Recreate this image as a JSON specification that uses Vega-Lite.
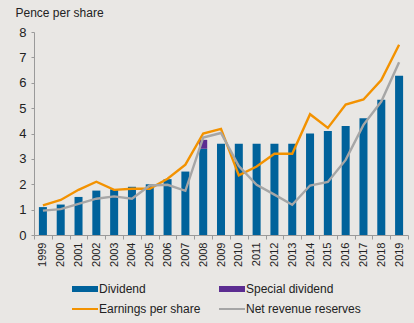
{
  "$schema": "https://vega.github.io/schema/vega-lite/v6.json",
  "width": 374,
  "height": 203,
  "autosize": {"type": "none"},
  "padding": {"left": 34, "top": 32, "right": 6, "bottom": 88},
  "background": "#e9e7e4",
  "config": {
    "view": {"stroke": null},
    "font": "Liberation Sans",
    "axis": {"labelFont": "Liberation Sans", "titleFont": "Liberation Sans"},
    "legend": {"labelFont": "Liberation Sans"}
  },
  "data": {
    "values": [
      {"year": "1999", "series": "Dividend", "value": 1.1},
      {"year": "2000", "series": "Dividend", "value": 1.2},
      {"year": "2001", "series": "Dividend", "value": 1.5},
      {"year": "2002", "series": "Dividend", "value": 1.75},
      {"year": "2003", "series": "Dividend", "value": 1.8},
      {"year": "2004", "series": "Dividend", "value": 1.9},
      {"year": "2005", "series": "Dividend", "value": 2.0},
      {"year": "2006", "series": "Dividend", "value": 2.2},
      {"year": "2007", "series": "Dividend", "value": 2.5},
      {"year": "2008", "series": "Dividend", "value": 3.4},
      {"year": "2009", "series": "Dividend", "value": 3.6},
      {"year": "2010", "series": "Dividend", "value": 3.6},
      {"year": "2011", "series": "Dividend", "value": 3.6},
      {"year": "2012", "series": "Dividend", "value": 3.6},
      {"year": "2013", "series": "Dividend", "value": 3.6},
      {"year": "2014", "series": "Dividend", "value": 4.0},
      {"year": "2015", "series": "Dividend", "value": 4.1},
      {"year": "2016", "series": "Dividend", "value": 4.3},
      {"year": "2017", "series": "Dividend", "value": 4.6},
      {"year": "2018", "series": "Dividend", "value": 5.33},
      {"year": "2019", "series": "Dividend", "value": 6.28},
      {"year": "2008", "series": "Special dividend", "value": 0.35},
      {"year": "1999", "series": "Earnings per share", "value": 1.17},
      {"year": "2000", "series": "Earnings per share", "value": 1.38},
      {"year": "2001", "series": "Earnings per share", "value": 1.78},
      {"year": "2002", "series": "Earnings per share", "value": 2.1},
      {"year": "2003", "series": "Earnings per share", "value": 1.78},
      {"year": "2004", "series": "Earnings per share", "value": 1.82},
      {"year": "2005", "series": "Earnings per share", "value": 1.82},
      {"year": "2006", "series": "Earnings per share", "value": 2.22},
      {"year": "2007", "series": "Earnings per share", "value": 2.77},
      {"year": "2008", "series": "Earnings per share", "value": 4.0},
      {"year": "2009", "series": "Earnings per share", "value": 4.18},
      {"year": "2010", "series": "Earnings per share", "value": 2.35},
      {"year": "2011", "series": "Earnings per share", "value": 2.7},
      {"year": "2012", "series": "Earnings per share", "value": 3.2},
      {"year": "2013", "series": "Earnings per share", "value": 3.2},
      {"year": "2014", "series": "Earnings per share", "value": 4.76},
      {"year": "2015", "series": "Earnings per share", "value": 4.22},
      {"year": "2016", "series": "Earnings per share", "value": 5.14},
      {"year": "2017", "series": "Earnings per share", "value": 5.34},
      {"year": "2018", "series": "Earnings per share", "value": 6.11},
      {"year": "2019", "series": "Earnings per share", "value": 7.5},
      {"year": "1999", "series": "Net revenue reserves", "value": 0.96},
      {"year": "2000", "series": "Net revenue reserves", "value": 1.02},
      {"year": "2001", "series": "Net revenue reserves", "value": 1.23},
      {"year": "2002", "series": "Net revenue reserves", "value": 1.43},
      {"year": "2003", "series": "Net revenue reserves", "value": 1.52},
      {"year": "2004", "series": "Net revenue reserves", "value": 1.43},
      {"year": "2005", "series": "Net revenue reserves", "value": 1.95},
      {"year": "2006", "series": "Net revenue reserves", "value": 1.98},
      {"year": "2007", "series": "Net revenue reserves", "value": 1.74},
      {"year": "2008", "series": "Net revenue reserves", "value": 3.84},
      {"year": "2009", "series": "Net revenue reserves", "value": 4.02},
      {"year": "2010", "series": "Net revenue reserves", "value": 2.72},
      {"year": "2011", "series": "Net revenue reserves", "value": 1.98},
      {"year": "2012", "series": "Net revenue reserves", "value": 1.59},
      {"year": "2013", "series": "Net revenue reserves", "value": 1.19},
      {"year": "2014", "series": "Net revenue reserves", "value": 1.95},
      {"year": "2015", "series": "Net revenue reserves", "value": 2.09},
      {"year": "2016", "series": "Net revenue reserves", "value": 2.96},
      {"year": "2017", "series": "Net revenue reserves", "value": 4.34},
      {"year": "2018", "series": "Net revenue reserves", "value": 5.26},
      {"year": "2019", "series": "Net revenue reserves", "value": 6.81}
    ]
  },
  "encoding": {
    "x": {
      "field": "year",
      "type": "ordinal",
      "scale": {"paddingInner": 0, "paddingOuter": 0},
      "axis": {
        "title": null,
        "labelAngle": -90,
        "labelFontSize": 11,
        "labelColor": "#222222",
        "labelPadding": 3,
        "tickBand": "extent",
        "tickSize": 4,
        "tickColor": "#9a9a9a",
        "domainColor": "#9a9a9a"
      }
    },
    "y": {
      "field": "value",
      "type": "quantitative",
      "scale": {"domain": [0, 8], "nice": false},
      "axis": {
        "title": "Pence per share",
        "titleAngle": 0,
        "titleX": -19,
        "titleY": -20,
        "titleAlign": "left",
        "titleBaseline": "middle",
        "titleFontSize": 12,
        "titleFontWeight": "normal",
        "titleColor": "#222222",
        "tickCount": 8,
        "grid": false,
        "labelFontSize": 13,
        "labelColor": "#222222",
        "labelPadding": 5,
        "tickSize": 3,
        "tickColor": "#9a9a9a",
        "domainColor": "#9a9a9a"
      }
    },
    "color": {
      "field": "series",
      "type": "nominal",
      "scale": {
        "domain": ["Dividend", "Special dividend", "Earnings per share", "Net revenue reserves"],
        "range": ["#00629b", "#5c2d91", "#f39200", "#a6a6a6"]
      },
      "legend": {
        "title": null,
        "orient": "none",
        "legendX": 45,
        "legendY": 251,
        "direction": "horizontal",
        "columns": 2,
        "columnPadding": 18,
        "rowPadding": 8,
        "padding": 0,
        "symbolSize": 100,
        "labelOffset": 8,
        "labelFontSize": 12,
        "labelColor": "#222222",
        "encode": {
          "symbols": {
            "update": {
              "shape": {"signal": "(datum.value === 'Dividend' || datum.value === 'Special dividend') ? 'M-2.6,-0.6H2.6V0.6H-2.6Z' : 'M-2.6,-0.2H2.6V0.2H-2.6Z'"},
              "fill": {"scale": "color", "field": "value"},
              "fillOpacity": {"value": 1},
              "opacity": {"value": 1},
              "strokeWidth": {"value": 0}
            }
          }
        }
      }
    }
  },
  "layer": [
    {
      "transform": [{"filter": "datum.series === 'Dividend' || datum.series === 'Special dividend'"}],
      "mark": {"type": "bar", "width": {"band": 0.45}},
      "encoding": {
        "order": {"field": "series", "sort": "ascending"}
      }
    },
    {
      "transform": [{"filter": "datum.series === 'Earnings per share' || datum.series === 'Net revenue reserves'"}],
      "mark": {"type": "line", "strokeWidth": 2.4},
      "encoding": {}
    }
  ]
}
